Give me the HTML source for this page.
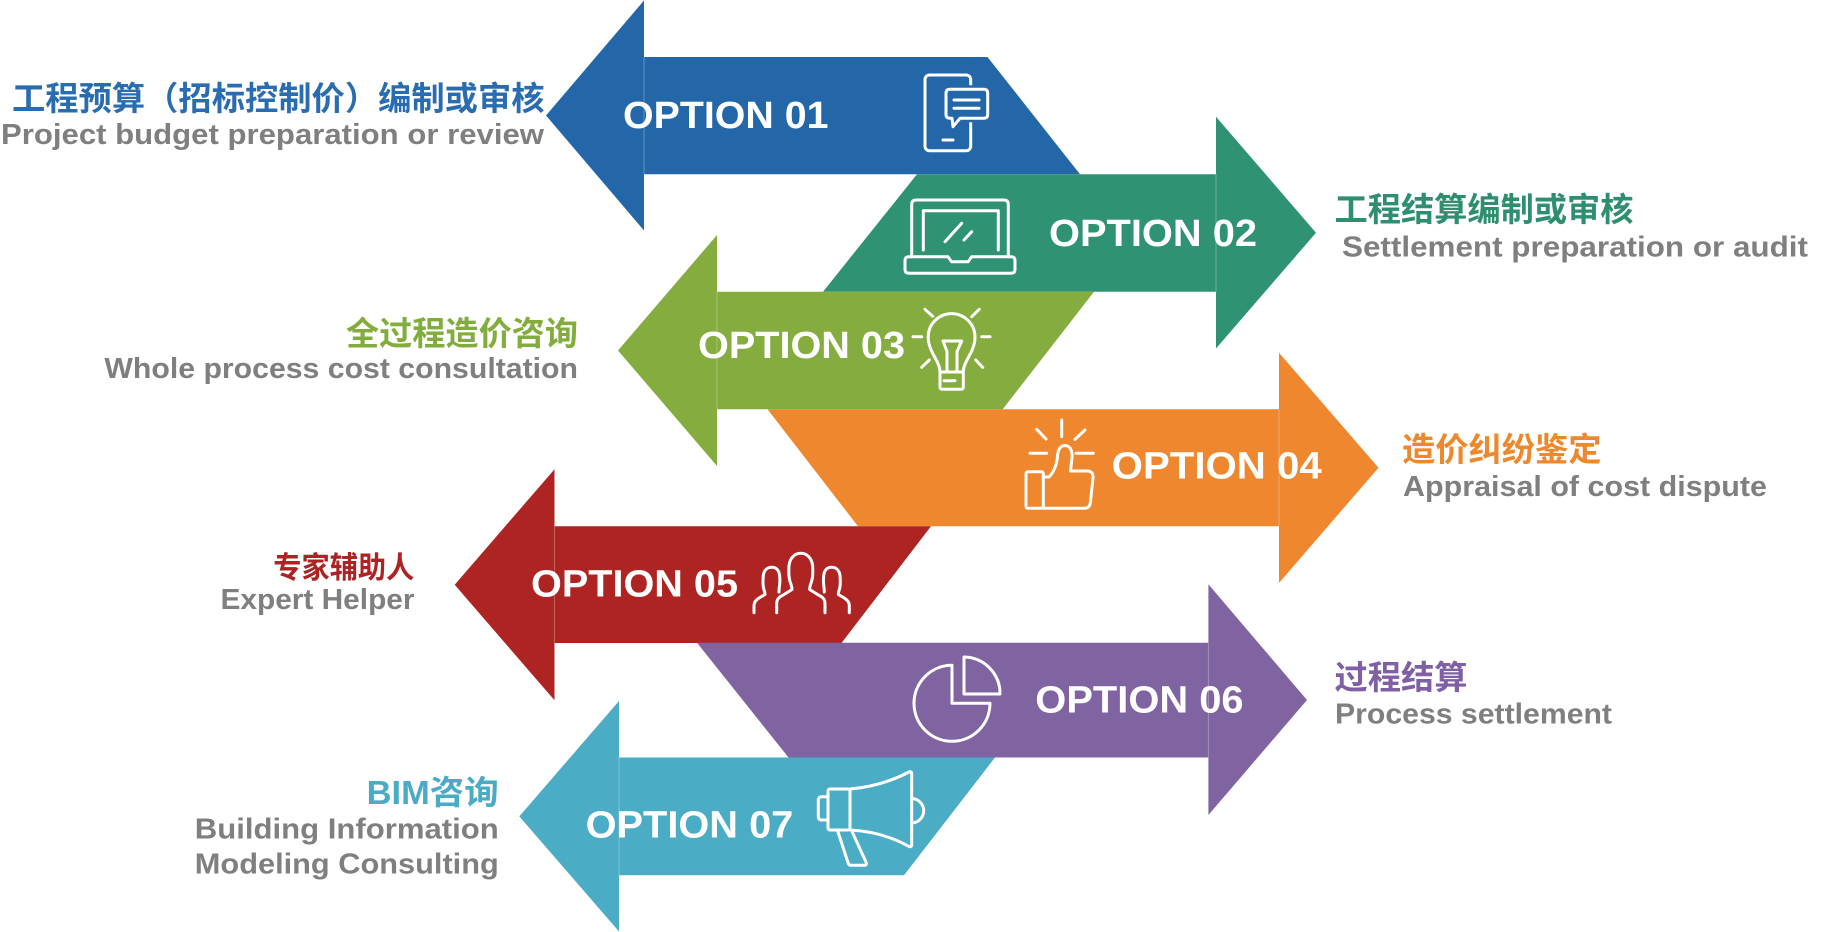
<!DOCTYPE html>
<html>
<head>
<meta charset="utf-8">
<style>
  html,body{margin:0;padding:0;background:#ffffff;}
  body{width:1835px;height:932px;overflow:hidden;}
  svg{display:block;}
  .opt{font-family:"Liberation Sans",sans-serif;font-weight:700;font-size:38px;fill:#ffffff;}
  .cn{font-family:"Liberation Sans","Noto Sans CJK SC",sans-serif;font-weight:700;font-size:33px;}
  .en{font-family:"Liberation Sans",sans-serif;font-weight:700;font-size:28.5px;fill:#7f7f7f;}
  .ic{fill:none;stroke:#ffffff;stroke-width:3;stroke-linecap:round;stroke-linejoin:round;}
  .seam{stroke:#ffffff;stroke-opacity:0.28;stroke-width:1;}
</style>
</head>
<body>
<svg width="1835" height="932" viewBox="0 0 1835 932" xmlns="http://www.w3.org/2000/svg">
  <!-- ARROWS -->
  <polygon fill="#2467a9" points="546,115.5 644,0.5 644,57 987.5,57 1080,174.3 644,174.3 644,230.5"/>
  <line class="seam" x1="644" y1="57" x2="644" y2="174.3"/>
  <polygon fill="#2f9373" points="917,174.3 1216,174.3 1216,116.7 1316,232.8 1216,348.5 1216,291.7 823,291.7"/>
  <line class="seam" x1="1216" y1="174.3" x2="1216" y2="291.7"/>
  <polygon fill="#84ac3f" points="618,350.5 717,235 717,291.7 1094,291.7 1002.7,409.3 717,409.3 717,466"/>
  <line class="seam" x1="717" y1="291.7" x2="717" y2="409.3"/>
  <polygon fill="#ee872d" points="767.5,409.3 1279,409.3 1279,352.7 1378.5,467.7 1279,583 1279,526.3 858,526.3"/>
  <line class="seam" x1="1279" y1="409.3" x2="1279" y2="526.3"/>
  <polygon fill="#ae2422" points="454.7,584.8 554.5,469.2 554.5,526.3 931,526.3 841.5,643 554.5,643 554.5,700.3"/>
  <line class="seam" x1="554.5" y1="526.3" x2="554.5" y2="643"/>
  <polygon fill="#8064a1" points="697,642.8 1208.4,642.8 1208.4,584.3 1307,700 1208.4,815 1208.4,757.5 788.5,757.5"/>
  <line class="seam" x1="1208.4" y1="642.8" x2="1208.4" y2="757.5"/>
  <polygon fill="#4bacc6" points="519.3,816.4 619,701 619,757.5 995,757.5 904,875.3 619,875.3 619,931.5"/>
  <line class="seam" x1="619" y1="757.5" x2="619" y2="875.3"/>

  <!-- OPTION TEXTS -->
  <text class="opt" x="623" y="128" textLength="205.5" lengthAdjust="spacingAndGlyphs">OPTION 01</text>
  <text class="opt" x="1049" y="246" textLength="208" lengthAdjust="spacingAndGlyphs">OPTION 02</text>
  <text class="opt" x="698" y="358" textLength="207" lengthAdjust="spacingAndGlyphs">OPTION 03</text>
  <text class="opt" x="1111.7" y="478.3" textLength="210" lengthAdjust="spacingAndGlyphs">OPTION 04</text>
  <text class="opt" x="531" y="596.7" textLength="207" lengthAdjust="spacingAndGlyphs">OPTION 05</text>
  <text class="opt" x="1035.3" y="712.7" textLength="208.3" lengthAdjust="spacingAndGlyphs">OPTION 06</text>
  <text class="opt" x="585.6" y="837.5" textLength="207.7" lengthAdjust="spacingAndGlyphs">OPTION 07</text>

  <!-- ICONS -->
  <rect class="ic" x="925" y="75" width="45.7" height="75.7" rx="4.5"/>
  <line class="ic" x1="943" y1="140" x2="953" y2="140"/>
  <path d="M950,89.3 H983.7 Q987.7,89.3 987.7,93.3 V114.3 Q987.7,118.3 983.7,118.3 H960 L953,126.7 L952,118.3 H950 Q946,118.3 946,114.3 V93.3 Q946,89.3 950,89.3 Z" fill="#2467a9" stroke="#2467a9" stroke-width="8" stroke-linejoin="round"/>
  <path class="ic" d="M950,89.3 H983.7 Q987.7,89.3 987.7,93.3 V114.3 Q987.7,118.3 983.7,118.3 H960 L953,126.7 L952,118.3 H950 Q946,118.3 946,114.3 V93.3 Q946,89.3 950,89.3 Z"/>
  <line class="ic" x1="954" y1="100" x2="979" y2="100"/>
  <line class="ic" x1="954" y1="108.3" x2="979" y2="108.3"/>

  <path class="ic" d="M911.7,256.7 V204.5 Q911.7,200 916.2,200 H1003.8 Q1008.3,200 1008.3,204.5 V256.7"/>
  <path class="ic" d="M923.3,250 V210.7 H998.3 V250"/>
  <path class="ic" d="M909,256.7 H948 L951.5,261.7 H968.2 L971.7,256.7 H1011 Q1015,256.7 1015,260.7 V269.3 Q1015,273.3 1011,273.3 H909 Q905,273.3 905,269.3 V260.7 Q905,256.7 909,256.7 Z"/>
  <line class="ic" x1="945" y1="241.7" x2="961.7" y2="223.3"/>
  <line class="ic" x1="964" y1="240" x2="971.7" y2="231.7"/>

  <path class="ic" d="M940,372 C940,361 928.2,352 928.2,337 A23.4,23.4 0 1 1 975,337 C975,352 963.3,361 963.3,372"/>
  <rect class="ic" x="940" y="372" width="23.3" height="17.3" rx="2"/>
  <line class="ic" x1="944" y1="380.7" x2="955" y2="380.7"/>
  <path class="ic" d="M943,341 H961.7 L957,351.5 V372 M943,341 L947,351.5 V372"/>
  <line class="ic" x1="913" y1="336.7" x2="921.7" y2="336.7"/>
  <line class="ic" x1="981.7" y1="336.7" x2="990" y2="336.7"/>
  <line class="ic" x1="925" y1="309.3" x2="932.7" y2="316.3"/>
  <line class="ic" x1="979.3" y1="309.3" x2="971.7" y2="316.7"/>
  <line class="ic" x1="921.7" y1="367.3" x2="929.3" y2="360"/>
  <line class="ic" x1="982.7" y1="367.3" x2="975.7" y2="360"/>

  <rect class="ic" x="1026" y="471.7" width="17.3" height="36.6" rx="2"/>
  <path class="ic" d="M1043.3,477 H1049 C1054,472 1057,464 1057.5,456 C1058,449 1061,445.5 1065,445.5 C1070.5,446 1072.5,451 1072,458 L1070.5,471 H1087.5 C1091.5,471 1093.5,474 1093,478 L1090.3,503 C1089.8,506.5 1087.5,508.3 1084,508.3 H1043.3"/>
  <line class="ic" x1="1061.7" y1="420" x2="1061.7" y2="436.7"/>
  <line class="ic" x1="1036.7" y1="429.3" x2="1046" y2="439"/>
  <line class="ic" x1="1085" y1="430" x2="1075" y2="439.3"/>
  <line class="ic" x1="1030" y1="453.3" x2="1046.7" y2="453.3"/>
  <line class="ic" x1="1076" y1="453.3" x2="1093.3" y2="453.3"/>

  <path class="ic" d="M776.7,612.7 V603.5 C776.7,598.5 780,596.5 784,594.5 L792,589.5 C792,586.5 791,584.5 790,581.5 C789,578 788.5,573.5 789,565.5 C790,557.5 795,553.3 800.8,553.3 C806.6,553.3 811.6,557.5 812.6,565.5 C813.1,573.5 812.6,578 811.6,581.5 C810.6,584.5 809.6,586.5 809.6,589.5 L817.6,594.5 C821.6,596.5 825,598.5 825,603.5 V612.7"/>
  <path class="ic" d="M754,612.7 V606 C754,602 756,600 759,598 L765,594.5 C765,592 764,590 763.5,588 C763,585 762.8,581 763.3,575.5 C764,570 767.5,567.3 771.7,567.3 C776,567.3 779,570 779.6,575.5 C780.2,581 779.8,585 779.2,588 L779,592"/>
  <path class="ic" d="M849.3,612.7 V606 C849.3,602 847.3,600 844.3,598 L838.3,594.5 C838.3,592 839.3,590 839.8,588 C840.3,585 840.5,581 840,575.5 C839.3,570 835.8,567.3 831.6,567.3 C827.3,567.3 824.3,570 823.7,575.5 C823.1,581 823.5,585 824.1,588 L824.3,592"/>

  <path class="ic" d="M952,665.3 V703.3 H990 A38,38 0 1 1 952,665.3 Z"/>
  <path class="ic" d="M964,657 V694 H1000 A36.5,36.5 0 0 0 964,657 Z"/>

  <path class="ic" d="M828,796.7 H822 Q818.3,796.7 818.3,800.5 V816.2 Q818.3,820 822,820 H828"/>
  <rect class="ic" x="828" y="789" width="22" height="41" rx="2"/>
  <path class="ic" d="M850,789 C872,787 892,781 909,772 Q911.7,771 911.7,774 V844.5 Q911.7,847.5 909,846.5 C892,837 872,831 850,830"/>
  <path class="ic" d="M912.5,798.5 A12.3,12.3 0 0 1 912.5,823"/>
  <path class="ic" d="M837.5,830.5 L848.3,863.5 Q849,865.3 851,865.3 H864.5 Q867,865.3 866.2,862.5 L852.5,832.5"/>

  <!-- LABELS -->
  <text class="cn" x="12" y="110" textLength="532.5" lengthAdjust="spacingAndGlyphs" fill="#2a6cb0">工程预算（招标控制价）编制或审核</text>
  <text class="en" x="1" y="144" textLength="543" lengthAdjust="spacingAndGlyphs">Project budget preparation or review</text>
  <text class="cn" x="1334.5" y="221" textLength="299" lengthAdjust="spacingAndGlyphs" fill="#2e8f6f">工程结算编制或审核</text>
  <text class="en" x="1342" y="256.7" textLength="466" lengthAdjust="spacingAndGlyphs">Settlement preparation or audit</text>
  <text class="cn" x="346" y="345" textLength="232" lengthAdjust="spacingAndGlyphs" fill="#82ad3d">全过程造价咨询</text>
  <text class="en" x="104.4" y="378" textLength="473.6" lengthAdjust="spacingAndGlyphs">Whole process cost consultation</text>
  <text class="cn" x="1402" y="461" textLength="199.5" lengthAdjust="spacingAndGlyphs" fill="#ee882d">造价纠纷鉴定</text>
  <text class="en" x="1403" y="496" textLength="364" lengthAdjust="spacingAndGlyphs">Appraisal of cost dispute</text>
  <text class="cn" x="273.3" y="578" textLength="141" lengthAdjust="spacingAndGlyphs" fill="#ad2222" style="font-size:30px">专家辅助人</text>
  <text class="en" x="220.5" y="609" textLength="194" lengthAdjust="spacingAndGlyphs">Expert Helper</text>
  <text class="cn" x="1334.5" y="689" textLength="133" lengthAdjust="spacingAndGlyphs" fill="#7f60a4">过程结算</text>
  <text class="en" x="1335" y="723.3" textLength="277" lengthAdjust="spacingAndGlyphs">Process settlement</text>
  <text class="cn" x="366.7" y="804" textLength="132" lengthAdjust="spacingAndGlyphs" fill="#4aabc7">BIM咨询</text>
  <text class="en" x="194.8" y="838.7" textLength="304" lengthAdjust="spacingAndGlyphs">Building Information</text>
  <text class="en" x="194.8" y="873.3" textLength="304" lengthAdjust="spacingAndGlyphs">Modeling Consulting</text>
</svg>
</body>
</html>
